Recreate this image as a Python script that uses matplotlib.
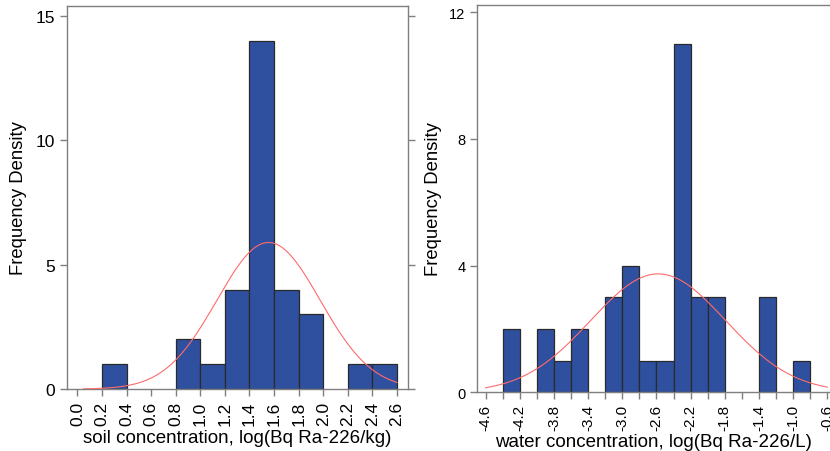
#!/usr/bin/python3

"""
Histograms of log Ra-226 concentration in soil and water, with fitted normal curves.
"""

import matplotlib
matplotlib.use("Agg")
import matplotlib.pyplot as plt
import numpy

plt.rcParams["font.family"] = ["Liberation Sans", "DejaVu Sans"]

BIN_WIDTH = 0.2

# Soil: left edge of each non-empty bin and its height.
soil_bin_left = [0.2, 0.8, 1.0, 1.2, 1.4, 1.6, 1.8, 2.2, 2.4]
soil_counts = [1, 2, 1, 4, 14, 4, 3, 1, 1]
soil_mean, soil_sd = 1.555, 0.42
soil_ticks = [0.0, 0.2, 0.4, 0.6, 0.8, 1.0, 1.2, 1.4, 1.6, 1.8, 2.0, 2.2, 2.4, 2.6]

# Water
water_bin_left = [-4.4, -4.0, -3.8, -3.6, -3.2, -3.0, -2.8, -2.6, -2.4,
                  -2.2, -2.0, -1.4, -1.0]
water_counts = [2, 2, 1, 2, 3, 4, 1, 1, 11, 3, 3, 3, 1]
water_mean, water_sd = -2.58, 0.79
water_label_ticks = [-4.6, -4.2, -3.8, -3.4, -3.0, -2.6, -2.2, -1.8, -1.4, -1.0, -0.6]

BAR_COLOR = "#2f4f9f"
EDGE_COLOR = "#2a2a2a"
FRAME_COLOR = "#7f7f7f"
CURVE_COLOR = "#ff6b6b"


def normal_curve(x, mean, sd, n):
    # Normal density scaled to the histogram's counts.
    return n * BIN_WIDTH / (sd * numpy.sqrt(2 * numpy.pi)) * \
        numpy.exp(-(x - mean) ** 2 / (2 * sd ** 2))


def style_frame(ax):
    for spine in ax.spines.values():
        spine.set_color(FRAME_COLOR)
        spine.set_linewidth(1.0)
    ax.tick_params(color=FRAME_COLOR, length=5, width=1.0, direction="out")


fig = plt.figure(figsize=(8.3, 4.52), dpi=100)

# Left: soil
ax1 = fig.add_axes([0.0804, 0.137, 0.4112, 0.848])
ax1.bar(soil_bin_left, soil_counts, width=BIN_WIDTH, align="edge",
        color=BAR_COLOR, edgecolor=EDGE_COLOR, linewidth=0.9, zorder=2)
xs = numpy.linspace(0.05, 2.6, 300)
ax1.plot(xs, normal_curve(xs, soil_mean, soil_sd, sum(soil_counts)),
         color=CURVE_COLOR, linewidth=0.8, zorder=3)
ax1.set_xlim(-0.087, 2.69)
ax1.set_ylim(0, 15.4)
ax1.set_xticks(soil_ticks)
ax1.set_xticklabels(["%.1f" % t for t in soil_ticks], rotation=90, fontsize=12.5)
ax1.set_yticks([0, 5, 10, 15])
ax1.tick_params(axis="y", labelsize=12.5, right=True)
style_frame(ax1)
ax1.set_xlabel("soil concentration, log(Bq Ra-226/kg)", fontsize=13.5, labelpad=3)
ax1.set_ylabel("Frequency Density", fontsize=13.3, labelpad=6)

# Right: water
ax2 = fig.add_axes([0.575, 0.130, 0.425, 0.857])
ax2.bar(water_bin_left, water_counts, width=BIN_WIDTH, align="edge",
        color=BAR_COLOR, edgecolor=EDGE_COLOR, linewidth=0.9, zorder=2)
xs = numpy.linspace(-4.6, -0.6, 300)
ax2.plot(xs, normal_curve(xs, water_mean, water_sd, sum(water_counts)),
         color=CURVE_COLOR, linewidth=0.8, zorder=3)
ax2.set_xlim(-4.698, -0.568)
ax2.set_ylim(0, 12.23)
ax2.set_xticks(numpy.round(numpy.arange(-4.6, -0.59, 0.2), 1), minor=True)
ax2.set_xticks(water_label_ticks)
ax2.set_xticklabels(["%.1f" % t for t in water_label_ticks], rotation=90, fontsize=11)
ax2.set_yticks([0, 4, 8, 12])
ax2.tick_params(axis="y", labelsize=10.5)
ax2.spines["right"].set_visible(False)
style_frame(ax2)
ax2.tick_params(which="minor", color=FRAME_COLOR, length=5, width=1.0)
ax2.set_xlabel("water concentration, log(Bq Ra-226/L)", fontsize=13.5, labelpad=2)
ax2.set_ylabel("Frequency Density", fontsize=13.3, labelpad=5)

fig.savefig("out.png", dpi=100)
